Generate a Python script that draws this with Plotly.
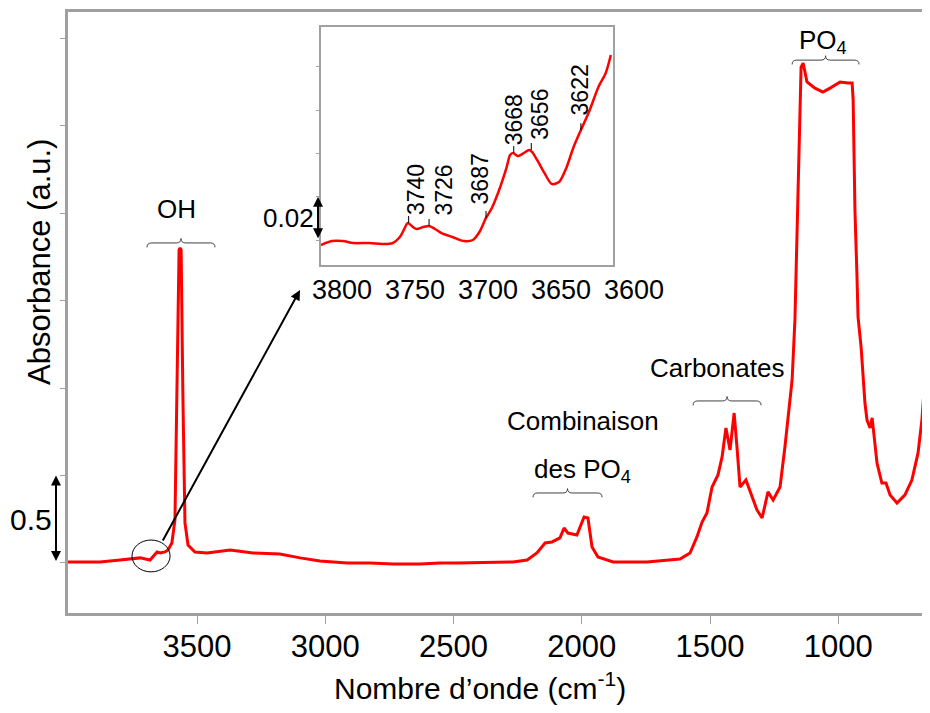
import plotly.graph_objects as go

# main spectrum (wavenumber in cm-1, absorbance in a.u.)
wavenumber = [4003, 3878, 3800, 3722, 3683, 3656, 3644, 3625, 3613, 3598, 3586, 3578, 3570, 3566,
              3562, 3555, 3547, 3535, 3508, 3461, 3371, 3282, 3177, 3098, 3021, 2915, 2826, 2736,
              2631, 2553, 2486, 2268, 2213, 2175, 2143, 2116, 2085, 2069, 2054, 2019, 1991, 1976,
              1960, 1937, 1878, 1746, 1617, 1578, 1551, 1531, 1512, 1492, 1469, 1453, 1438, 1422,
              1406, 1395, 1383, 1360, 1336, 1317, 1297, 1274, 1254, 1227, 1208, 1188, 1180, 1169,
              1161, 1153, 1145, 1137, 1122, 1091, 1060, 1032, 993, 962, 946, 942, 939, 935, 927,
              923, 911, 904, 896, 888, 876, 868, 861, 849, 830, 814, 798, 771, 740, 713, 689, 674,
              662, 654, 646, 642, 630]
absorbance = [0.006, 0.006, 0.017, 0.029, 0.017, 0.063, 0.057, 0.063, 0.074, 0.114, 0.246, 0.949,
              1.789, 1.80, 1.789, 0.949, 0.229, 0.103, 0.063, 0.057, 0.074, 0.057, 0.051, 0.029,
              0.011, 0.0, 0.0, -0.006, -0.006, 0.0, 0.0, 0.006, 0.017, 0.057, 0.114, 0.12, 0.143,
              0.2, 0.171, 0.16, 0.263, 0.257, 0.091, 0.034, 0.006, 0.006, 0.023, 0.057, 0.149,
              0.234, 0.286, 0.434, 0.503, 0.606, 0.771, 0.646, 0.857, 0.663, 0.434, 0.474, 0.377,
              0.303, 0.257, 0.406, 0.36, 0.434, 0.663, 0.949, 1.046, 1.389, 1.886, 2.457, 2.834,
              2.857, 2.749, 2.714, 2.691, 2.714, 2.749, 2.743, 2.743, 2.646, 2.303, 2.017, 1.634,
              1.406, 1.234, 1.086, 0.914, 0.817, 0.771, 0.829, 0.743, 0.571, 0.457, 0.457, 0.389,
              0.343, 0.389, 0.474, 0.629, 0.817, 1.063, 1.446, 1.92, 2.171, 2.7]

# inset, 3800-3600 cm-1
inset_wavenumber = [3800, 3792.5, 3785, 3778, 3767, 3758, 3751, 3746, 3743, 3740.6, 3737, 3734.5,
                    3730, 3726, 3722, 3717.5, 3710, 3702, 3696, 3691.5, 3687, 3683, 3678, 3673,
                    3670.5, 3668.5, 3665, 3661, 3657.5, 3655.5, 3652, 3647, 3642, 3637, 3632, 3627,
                    3622, 3616.5, 3610, 3605, 3601.5]
inset_absorbance = [0.0177, 0.0195, 0.0195, 0.0186, 0.0186, 0.0182, 0.0186, 0.0214, 0.0251, 0.0279,
                    0.0260, 0.0251, 0.0260, 0.0265, 0.0251, 0.0232, 0.0214, 0.0195, 0.0200, 0.0237,
                    0.0302, 0.0348, 0.0431, 0.0533, 0.0593, 0.0602, 0.0588, 0.0602, 0.0616, 0.0607,
                    0.0570, 0.0510, 0.0459, 0.0468, 0.0533, 0.0630, 0.0708, 0.0791, 0.0907, 0.0972,
                    0.1055]

peak_wn = [3740, 3726, 3687, 3668, 3656, 3622]
peak_abs = [0.0279, 0.0265, 0.0302, 0.0602, 0.0616, 0.0708]

main_ticks = [3500, 3000, 2500, 2000, 1500, 1000]
inset_ticks = [3800, 3750, 3700, 3650, 3600]

band_labels = ['OH', 'Combinaison', 'des PO<sub>4</sub>', 'Carbonates', 'PO<sub>4</sub>']
band_label_x = [3580, 1995, 1999, 1473, 1060]
band_label_y = [2.023, 0.811, 0.531, 1.114, 2.983]

brace_from = [3695, 2190, 1566, 1180]
brace_to = [3430, 1921, 1301, 919]
brace_y = [1.829, 0.40, 0.926, 2.874]

FONT = 'Liberation Sans, Arial, sans-serif'
AXIS_GREY = '#a0a0a0'


def brace_path(x0, x1, y, h=0.025, d=18):
    xm = (x0 + x1) / 2
    d = d if x1 > x0 else -d
    return ('M {},{} Q {},{} {},{} L {},{} Q {},{} {},{} Q {},{} {},{} L {},{} Q {},{} {},{}'
            .format(x0, y - h, x0, y, x0 + d, y, xm - d, y, xm, y, xm, y + h,
                    xm, y, xm + d, y, x1 - d, y, x1, y, x1, y - h))


fig = go.Figure()
fig.add_trace(go.Scatter(x=wavenumber, y=absorbance, mode='lines',
                         line=dict(color='#ff0000', width=3), showlegend=False))
fig.add_trace(go.Scatter(x=inset_wavenumber, y=inset_absorbance, mode='lines',
                         line=dict(color='#ff0000', width=2.5, shape='spline', smoothing=0.8),
                         xaxis='x2', yaxis='y2', showlegend=False))

# the page body keeps an 8px margin all round, so the figure is 16px smaller than the window
fig.update_layout(
    width=914, height=697,
    margin=dict(l=60, r=0, t=4, b=92, autoexpand=False),
    paper_bgcolor='white', plot_bgcolor='white',
    font=dict(family=FONT, color='black'),
    xaxis=dict(range=[4003, 673.6], tickvals=main_ticks, ticks='outside', ticklen=8,
               tickcolor=AXIS_GREY, showline=True, linecolor=AXIS_GREY, linewidth=3, mirror=True,
               showgrid=False, zeroline=False, tickfont=dict(size=31), ticklabelstandoff=-4,
               automargin=False),
    yaxis=dict(range=[-0.286, 3.149], tickvals=[0, 0.5, 1, 1.5, 2, 2.5, 3], showticklabels=False,
               ticks='outside', ticklen=5, tickcolor=AXIS_GREY, showline=True,
               linecolor=AXIS_GREY, linewidth=3, showgrid=False, zeroline=False, automargin=False),
    xaxis2=dict(domain=[0.2963, 0.6382], anchor='y2', range=[3800, 3600], tickvals=inset_ticks,
                ticks='', showline=True, linecolor=AXIS_GREY, linewidth=2, mirror=True,
                showgrid=False, zeroline=False, tickfont=dict(size=27), ticklabelshift=-21,
                automargin=False),
    yaxis2=dict(domain=[0.579, 0.975], anchor='x2', range=[0.00845, 0.1184],
                tickvals=[0.02, 0.04, 0.06, 0.08, 0.10], showticklabels=False, ticks='outside',
                ticklen=3, tickcolor=AXIS_GREY, showline=True, linecolor=AXIS_GREY, linewidth=2,
                mirror=True, showgrid=False, zeroline=False, automargin=False),
)

# axis titles
fig.add_annotation(text='Nombre d\u2019onde (cm<sup>-1</sup>)', xref='paper', yref='paper',
                   x=0.4824, y=-0.121, xanchor='center', yanchor='middle', showarrow=False,
                   font=dict(size=30))
fig.add_annotation(text='Absorbance (a.u.)', xref='paper', yref='paper', x=-0.034, y=0.584,
                   xanchor='center', yanchor='middle', textangle=-90, showarrow=False,
                   font=dict(size=31))

# band labels and braces
for text, x, y in zip(band_labels, band_label_x, band_label_y):
    fig.add_annotation(text=text, x=x, y=y, xanchor='center', yanchor='middle',
                       showarrow=False, font=dict(size=26))
for x0, x1, y in zip(brace_from, brace_to, brace_y):
    fig.add_shape(type='path', path=brace_path(x0, x1, y), xref='x', yref='y',
                  line=dict(color='#404040', width=1))

# scale bars
fig.add_annotation(x=-0.01405, y=0.5, xref='paper', yref='y', ax=0, ay=87, text='',
                   showarrow=True, arrowside='end+start', arrowhead=2, startarrowhead=2,
                   arrowwidth=2, arrowcolor='black')
fig.add_annotation(text='0.5', xref='paper', yref='y', x=-0.0433, y=0.246, xanchor='center',
                   yanchor='middle', showarrow=False, font=dict(size=30))
fig.add_annotation(x=-0.0103, y=0.04, xref='x2 domain', yref='y2', ax=0, ay=43, text='',
                   showarrow=True, arrowside='end+start', arrowhead=2, startarrowhead=2,
                   arrowwidth=2, arrowcolor='black')
fig.add_annotation(text='0.02', xref='x2 domain', yref='y2', x=-0.113, y=0.0304,
                   xanchor='center', yanchor='middle', showarrow=False, font=dict(size=26))

# zoom circle and arrow to inset
fig.add_shape(type='circle', xref='x', yref='y', x0=3753.5, x1=3605, y0=-0.051, y1=0.131,
              line=dict(color='black', width=1))
fig.add_annotation(x=3098.5, y=1.56, ax=-138, ay=252, text='', showarrow=True, arrowhead=2,
                   arrowsize=1, arrowwidth=2, arrowcolor='black')

# inset peak markers
label_shift = [(8, 6), (15, 8), (-6, 11), (0, 6), (9, 8), (-1, 13)]
for wn, a, (dx, dy) in zip(peak_wn, peak_abs, label_shift):
    fig.add_shape(type='line', xref='x2', yref='y2', x0=wn, x1=wn, y0=a, y1=a + 0.0032,
                  line=dict(color='black', width=1))
    fig.add_annotation(text=str(wn), x=wn, y=a, xref='x2', yref='y2', textangle=-90,
                       xanchor='center', yanchor='bottom', xshift=dx, yshift=dy,
                       showarrow=False, font=dict(size=23))

fig.write_html('out.html')
